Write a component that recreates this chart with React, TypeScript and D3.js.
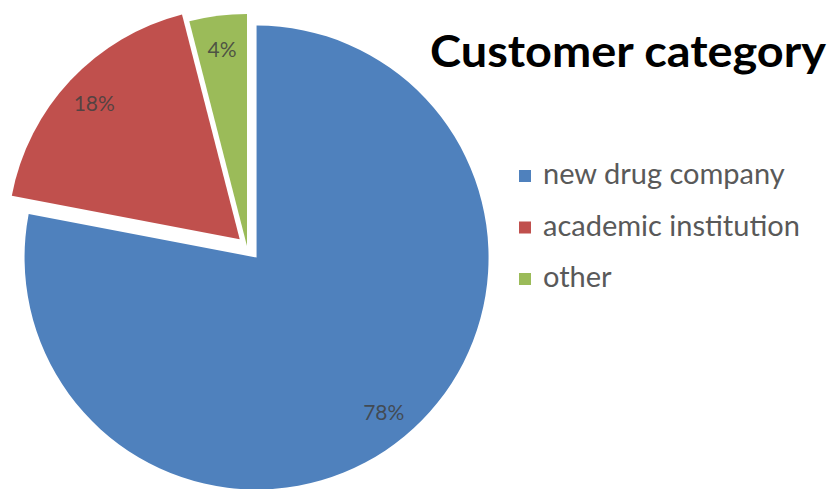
import React from "react";
import * as d3 from "d3";

const categories = ["new drug company", "academic institution", "other"];
const values = [78, 18, 4];
const labels = ["78%", "18%", "4%"];
const title = "Customer category";

const colors = ["#4F81BD", "#C0504D", "#9BBB59"];
const explode = [15, 10, 0];

export default function App() {
  const W = 836, H = 489;
  const cx = 247, cy = 246, r = 232;
  const pie = d3.pie<number>().sort(null).startAngle(0).endAngle(2 * Math.PI).value(d => d);
  const arcs = pie(values);
  const arc = d3.arc<d3.PieArcDatum<number>>().innerRadius(0).outerRadius(r);
  const labelR = r * 0.86;
  const font = "Lato, 'Open Sans', sans-serif";
  return (
    <svg width={W} height={H} style={{ position: "absolute", left: 0, top: 0, background: "#fff" }}>
      <g transform={`translate(${cx},${cy})`}>
        {arcs.map((a, i) => {
          const mid = (a.startAngle + a.endAngle) / 2;
          const ox = Math.sin(mid) * explode[i];
          const oy = -Math.cos(mid) * explode[i];
          const lx = ox + Math.sin(mid) * labelR;
          const ly = oy - Math.cos(mid) * labelR;
          return (
            <g key={i}>
              <path d={arc(a) || ""} transform={`translate(${ox},${oy})`} fill={colors[i]} />
              <text x={lx} y={ly} textAnchor="middle" dominantBaseline="central"
                fontFamily={font} fontSize={21} fill="#404040" fillOpacity={0.85}>{labels[i]}</text>
            </g>
          );
        })}
      </g>
      <text x={430} y={67} fontFamily={font} fontWeight="bold" fontSize={44} fill="#000"
        textLength={396} lengthAdjust="spacingAndGlyphs">{title}</text>
      {categories.map((c, i) => {
        const y = 176 + i * 51.5;
        return (
          <g key={c}>
            <rect x={519} y={y - 6} width={12} height={12} fill={colors[i]} />
            <text x={543} y={y + 8} fontFamily={font} fontSize={29} fill="#595959">{c}</text>
          </g>
        );
      })}
    </svg>
  );
}
